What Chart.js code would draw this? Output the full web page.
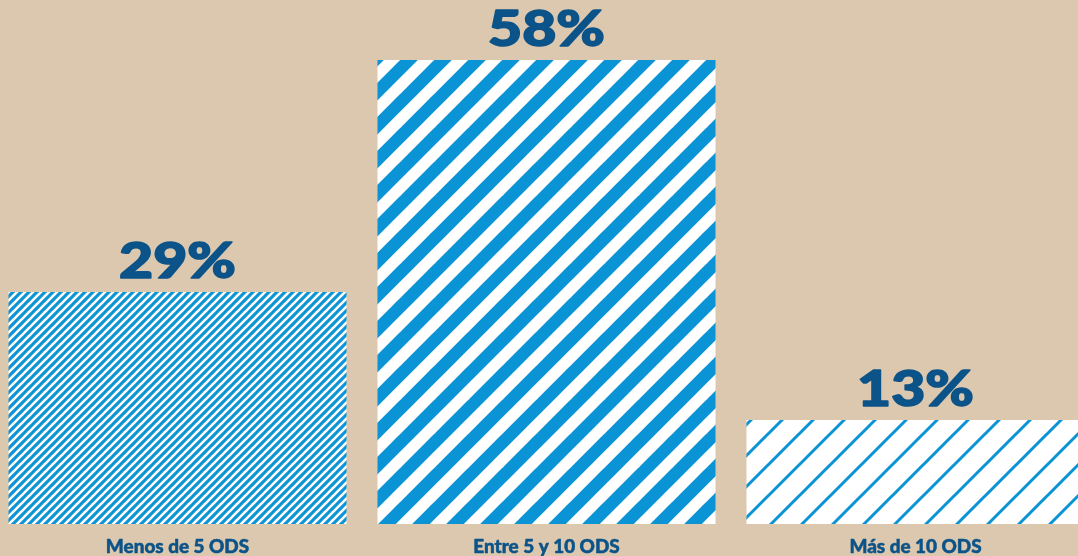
<!DOCTYPE html>
<html>
<head>
<meta charset="utf-8">
<script src="https://cdn.jsdelivr.net/npm/chart.js@4"></script>
<style>
  html, body { margin: 0; padding: 0; width: 1078px; height: 556px; overflow: hidden; background: #dbc8ae; }
  #wrap { position: absolute; left: -7.5px; top: 0; width: 1107px; height: 556px; }
</style>
</head>
<body>
<div id="wrap"><canvas id="c"></canvas></div>
<script>
const categories = ["Menos de 5 ODS", "Entre 5 y 10 ODS", "Más de 10 ODS"];
const values = [29, 58, 13];
const valueLabels = ["29%", "58%", "13%"];

const BLUE = "#0a94d6";
const TEXT = "#0b5388";

function stripes(period, width) {
  const c = document.createElement("canvas");
  c.width = period; c.height = period;
  const g = c.getContext("2d");
  g.fillStyle = "#ffffff";
  g.fillRect(0, 0, period, period);
  g.strokeStyle = BLUE;
  g.lineWidth = width;
  g.lineCap = "square";
  for (const x0 of [-period, 0, period]) {
    g.beginPath();
    g.moveTo(x0, period);
    g.lineTo(x0 + period, 0);
    g.stroke();
  }
  return g.createPattern(c, "repeat");
}

const patterns = [stripes(8, 3.1), stripes(34, 12.5), stripes(31, 3)];

function wideText(ctx, text, x, y, sx, sw) {
  ctx.save();
  ctx.translate(x, y);
  ctx.scale(sx, 1);
  ctx.fillText(text, 0, 0);
  if (sw > 0) {
    ctx.lineWidth = sw;
    ctx.lineJoin = "round";
    ctx.strokeText(text, 0, 0);
  }
  ctx.restore();
}

const labelPlugin = {
  id: "labels",
  afterDatasetsDraw(chart) {
    const ctx = chart.ctx;
    const meta = chart.getDatasetMeta(0);
    ctx.save();
    ctx.fillStyle = TEXT;
    ctx.strokeStyle = TEXT;
    ctx.textAlign = "center";
    ctx.textBaseline = "alphabetic";
    meta.data.forEach((bar, i) => {
      ctx.font = "900 49px Lato";
      wideText(ctx, valueLabels[i], bar.x, bar.y - 14.5, 1.2, 1.6);
      ctx.font = "900 18px Lato";
      wideText(ctx, categories[i], bar.x, 553, 1.05, 0.5);
    });
    ctx.restore();
  }
};

new Chart(document.getElementById("c"), {
  type: "bar",
  data: {
    labels: categories,
    datasets: [{
      data: values,
      backgroundColor: patterns,
      borderWidth: 0,
      barPercentage: 338 / 369,
      categoryPercentage: 1
    }]
  },
  options: {
    responsive: true,
    maintainAspectRatio: false,
    animation: false,
    layout: { padding: { top: 4, bottom: 32, left: 0, right: 0 } },
    plugins: { legend: { display: false }, tooltip: { enabled: false } },
    scales: {
      x: { display: false },
      y: { display: false, min: 0, max: 65 }
    }
  },
  plugins: [labelPlugin]
});
</script>
</body>
</html>
